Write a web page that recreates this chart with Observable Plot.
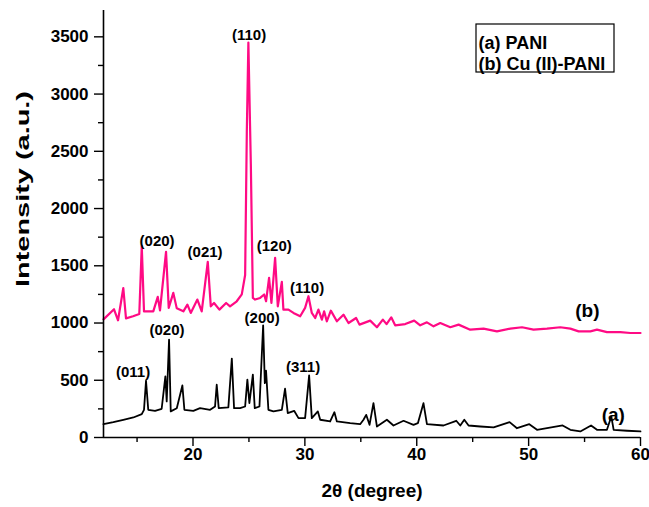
<!DOCTYPE html>
<html><head><meta charset="utf-8">
<script src="https://cdn.jsdelivr.net/npm/d3@7"></script>
<script src="https://cdn.jsdelivr.net/npm/@observablehq/plot@0.6"></script>
<style>
body{margin:0;background:#fff}
#chart{width:649px;height:507px}
</style>
</head><body><div id="chart"></div>
<script>
// (a) PANI
const paniTheta = [12.0,12.88,13.77,14.67,15.42,15.62,15.80,16.0,16.61,17.20,17.53,17.65,17.86,18.01,18.55,19.05,19.23,20.03,20.63,21.53,21.97,22.12,22.30,23.16,23.47,23.67,24.21,24.66,24.86,25.04,25.35,25.52,25.94,26.27,26.42,26.53,26.74,27.19,27.94,28.23,28.47,29.04,29.43,30.02,30.38,30.62,31.16,31.37,32.26,32.64,32.86,34.05,34.94,35.24,35.48,35.78,36.13,36.44,37.33,37.92,38.82,39.71,40.1,40.60,40.91,42.39,43.53,43.89,44.25,44.63,45.68,46.87,48.30,48.96,50.06,50.75,53.04,53.73,54.62,55.58,56.11,57.0,57.39,57.6,58.8,60.0];
const paniIntensity = [116,134,155,175,204,242,496,242,233,251,534,315,855,228,256,455,242,233,256,242,271,461,256,263,689,256,256,271,505,300,549,256,271,980,475,583,242,228,242,426,213,233,169,169,543,169,228,155,140,221,140,125,116,155,198,111,300,96,155,105,146,111,125,300,116,105,146,105,155,105,96,88,134,81,116,67,105,67,53,105,67,67,184,67,59,53];
// (b) Cu (II)-PANI
const cuPaniTheta = [12.0,12.94,13.30,13.77,14.01,14.64,15.20,15.42,15.62,16.45,16.85,17.05,17.59,17.83,18.24,18.55,19.14,19.50,19.80,20.39,20.78,21.32,21.59,21.88,22.36,22.96,23.31,23.91,24.36,24.66,24.81,24.95,25.17,25.35,25.55,26.0,26.36,26.53,26.80,27.01,27.34,27.58,27.94,28.08,28.53,28.98,29.58,30.02,30.32,30.62,30.92,31.21,31.52,31.72,31.96,32.32,32.86,33.45,33.90,34.58,34.88,35.84,36.44,36.97,37.3,37.72,38.07,38.97,39.77,40.31,40.91,41.50,42.1,43.0,43.74,44.78,45.97,47.17,48.36,49.41,50.44,51.64,52.83,53.73,54.47,55.52,56.11,57.0,58.2,59.09,60.0];
const cuPaniIntensity = [1032,1120,1024,1306,1041,1059,1079,1671,1102,1102,1228,1111,1622,1132,1263,1128,1102,1161,1088,1205,1102,1534,1146,1175,1117,1175,1146,1190,1250,1420,2669,3450,2386,1219,1205,1219,1249,1190,1394,1175,1569,1146,1359,1117,1117,1088,1059,1132,1234,1088,1044,1117,1030,1102,1015,1108,1015,1073,1000,1044,986,1021,963,1030,990,1050,980,991,1021,980,1006,971,1000,963,986,942,951,927,951,963,942,951,963,951,927,927,942,921,921,913,913];
// peak (hkl) annotations
const hklLabels = ["(110)","(020)","(021)","(120)","(110)","(020)","(011)","(200)","(311)"];
const hklTheta = [25.01,16.79,21.08,27.26,30.2,17.68,14.64,26.18,29.84];
const hklIntensity = [3517,1715,1619,1671,1304,936,569,1041,612];
const curveLabels = ["(a)","(b)"];
const curveLabelTheta = [57.57,55.25];
const curveLabelIntensity = [201,1102];
const legendLines = ["(a) PANI","(b) Cu (II)-PANI"];
const xMajor = [20,30,40,50,60];
const xMinor = [15,25,35,45,55];
const yMajor = [0,500,1000,1500,2000,2500,3000,3500];
const yMinor = [250,750,1250,1750,2250,2750,3250];
const xTitle = "2θ (degree)";
const yTitle = "Intensity (a.u.)";

const pani = paniTheta.map((t,i)=>({t, v: paniIntensity[i]}));
const cuPani = cuPaniTheta.map((t,i)=>({t, v: cuPaniIntensity[i]}));
const hkl = hklLabels.map((s,i)=>({s, t: hklTheta[i], v: hklIntensity[i]}));
const curveLab = curveLabels.map((s,i)=>({s, t: curveLabelTheta[i], v: curveLabelIntensity[i]}));

const font = "'Liberation Sans', Arial, Helvetica, sans-serif";
const W = 649, H = 507, mL = 103, mR = 9, mT = 10, mB = 70;

const svg = Plot.plot({
  width: W, height: H,
  marginLeft: mL, marginRight: mR, marginTop: mT, marginBottom: mB,
  style: {fontFamily: font, fontWeight: "bold", fontSize: "17px", color: "#000", background: "#fff"},
  x: {domain: [12, 60], label: null},
  y: {domain: [0, 3730], label: null},
  marks: [
    Plot.line(cuPani, {x: "t", y: "v", stroke: "#ff0a84", strokeWidth: 2.2}),
    Plot.line(pani, {x: "t", y: "v", stroke: "#000", strokeWidth: 1.8}),
    Plot.axisX(xMajor, {tickSize: 9, tickPadding: 1, strokeWidth: 1.4, tickFormat: "d"}),
    Plot.axisX(xMinor, {tickSize: 5, strokeWidth: 1.4, tickFormat: () => ""}),
    Plot.axisY(yMajor, {tickSize: 9, tickPadding: 6, strokeWidth: 1.4, tickFormat: "d"}),
    Plot.axisY(yMinor, {tickSize: 5, strokeWidth: 1.4, tickFormat: () => ""}),
    Plot.ruleX([12], {strokeWidth: 1.6}),
    Plot.ruleY([0], {strokeWidth: 1.6}),
    Plot.text(hkl, {x: "t", y: "v", text: "s", fontSize: 15, fontWeight: "bold", fill: "#000"}),
    Plot.text(curveLab, {x: "t", y: "v", text: "s", fontSize: 19, fontWeight: "bold", fill: "#000"}),
    Plot.text([xTitle], {frameAnchor: "bottom", dy: 59, fontSize: 19, fontWeight: "bold"}),
    Plot.text([yTitle], {frameAnchor: "left", dx: -80, dy: 63, rotate: -90, textAnchor: "start", fontSize: 18, fontWeight: "bold"}),
    Plot.text([legendLines[0]], {frameAnchor: "top-left", dx: 375, dy: 26, textAnchor: "start", fontSize: 18, fontWeight: "bold"}),
    Plot.text([legendLines[1]], {frameAnchor: "top-left", dx: 375, dy: 47, textAnchor: "start", fontSize: 18, fontWeight: "bold"})
  ]
});
document.getElementById("chart").appendChild(svg);

// tick label size
d3.select(svg).selectAll('g[aria-label$="tick label"]').attr("font-size", 17).style("font-size", "17px");

// stretch the y title like the reference
d3.select(svg).selectAll("text").filter(function(){ return this.textContent === yTitle; })
  .attr("textLength", 196).attr("lengthAdjust", "spacingAndGlyphs");

// legend box
d3.select(svg).append("rect")
  .attr("x", mL + 373).attr("y", mT + 14).attr("width", 138).attr("height", 48)
  .attr("fill", "none").attr("stroke", "#000").attr("stroke-width", 1.2);
</script>
</body></html>
